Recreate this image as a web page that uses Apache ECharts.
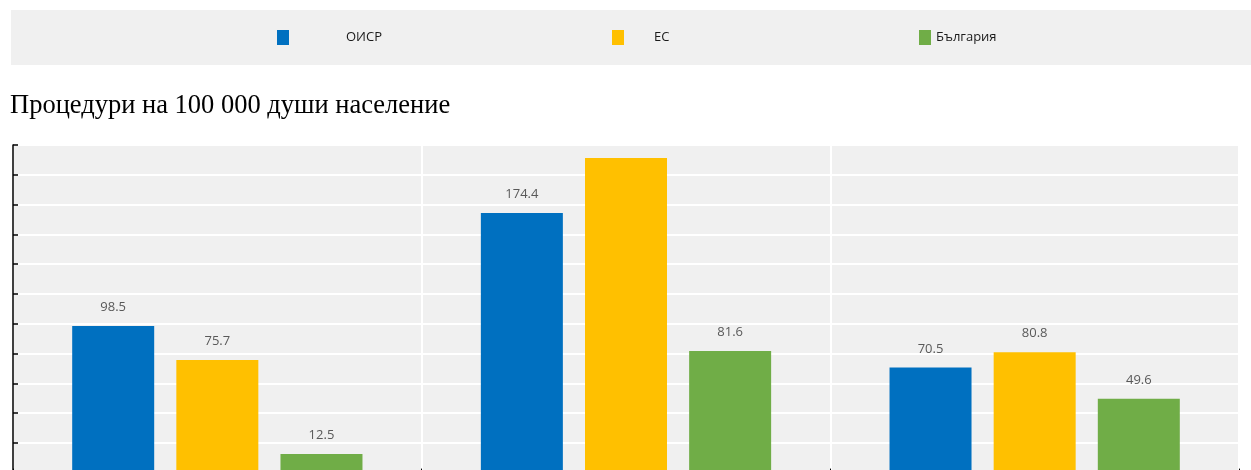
<!DOCTYPE html>
<html>
<head>
<meta charset="utf-8">
<script src="https://cdn.jsdelivr.net/npm/echarts@6/dist/echarts.min.js"></script>
<style>
  html, body { margin: 0; padding: 0; background: #ffffff; overflow: hidden; }
  #chart { width: 1251px; height: 520px; }
</style>
</head>
<body>
<div id="chart"></div>
<script>
// Procedures per 100 000 population: OECD, EU and Bulgaria in three groups
const categories = ['Група 1', 'Група 2', 'Група 3'];
const seriesNames = ['ОИСР', 'ЕС', 'България'];
const oecdValues = [98.5, 174.4, 70.5];
const euValues = [75.7, 211.3, 80.8];
const bgValues = [12.5, 81.6, 49.6];
const yTicks = { min: 0, max: 220, interval: 20 };
const colors = ['#0070C0', '#FFC000', '#70AD47'];

const chart = echarts.init(document.getElementById('chart'), null, { renderer: 'canvas' });

const labelStyle = {
  show: true,
  position: 'top',
  distance: 12,
  color: '#595959',
  fontFamily: 'Open Sans',
  fontSize: 13
};

function barSeries(name, values, color, hideIdx) {
  return {
    name: name,
    type: 'bar',
    barWidth: 82,
    barGap: '27%',
    itemStyle: { color: color },
    label: labelStyle,
    data: values.map((v, i) => (i === hideIdx ? { value: v, label: { show: false } } : v))
  };
}

function legendItem(name, left, textGap) {
  return {
    data: [name],
    left: left,
    top: 30,
    padding: 0,
    itemWidth: 12,
    itemHeight: 15,
    icon: 'rect',
    selectedMode: false,
    textStyle: {
      color: '#1a1a1a',
      fontFamily: 'Open Sans',
      fontSize: 13,
      padding: [0, 0, 0, textGap]
    }
  };
}

chart.setOption({
  animation: false,
  backgroundColor: '#ffffff',
  color: colors,
  graphic: [
    {
      type: 'rect',
      z: -10,
      shape: { x: 11, y: 10, width: 1240, height: 55 },
      style: { fill: '#f0f0f0' }
    },
    {
      type: 'text',
      left: 10,
      top: 93,
      style: {
        text: 'Процедури на 100 000 души население',
        fill: '#000000',
        font: '26.5px "Liberation Serif"'
      }
    }
  ],
  legend: [
    legendItem(seriesNames[0], 277, 52),
    legendItem(seriesNames[1], 612, 25),
    legendItem(seriesNames[2], 919, 0)
  ],
  grid: {
    left: 13,
    top: 145,
    width: 1226,
    height: 327.6,
    show: true,
    backgroundColor: '#f0f0f0',
    borderWidth: 0
  },
  xAxis: {
    type: 'category',
    data: categories,
    boundaryGap: true,
    axisLine: { show: true, lineStyle: { color: '#000000', width: 1 } },
    axisTick: { show: true, inside: true, length: 4, lineStyle: { color: '#000000' } },
    axisLabel: { show: false },
    splitLine: { show: true, lineStyle: { color: '#ffffff', width: 2 } }
  },
  yAxis: {
    type: 'value',
    min: yTicks.min,
    max: yTicks.max,
    interval: yTicks.interval,
    axisLine: { show: true, lineStyle: { color: '#000000', width: 1.5 } },
    axisTick: { show: true, inside: true, length: 5, lineStyle: { color: '#000000', width: 1.5 } },
    axisLabel: { show: false },
    splitLine: { show: true, lineStyle: { color: '#ffffff', width: 2 } }
  },
  series: [
    barSeries(seriesNames[0], oecdValues, colors[0], -1),
    barSeries(seriesNames[1], euValues, colors[1], 1),
    barSeries(seriesNames[2], bgValues, colors[2], -1)
  ]
});
</script>
</body>
</html>
